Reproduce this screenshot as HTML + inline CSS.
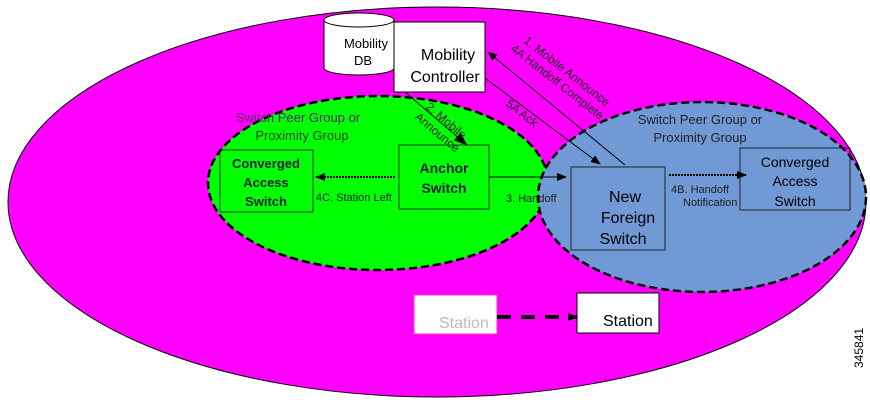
<!DOCTYPE html>
<html><head><style>body{margin:0;background:#fff}svg{display:block}text{font-family:"Liberation Sans",Arial,sans-serif}</style></head><body>
<svg width="870" height="403" viewBox="0 0 870 403">
<defs>
<marker id="a" markerWidth="10" markerHeight="8" refX="9" refY="4" orient="auto" markerUnits="userSpaceOnUse"><path d="M0,0 L10,4 L0,8z" fill="#000"/></marker>
<marker id="b" markerWidth="14" markerHeight="10" refX="13" refY="5" orient="auto" markerUnits="userSpaceOnUse"><path d="M0,0 L14,5 L0,10z" fill="#000"/></marker>
</defs>
<ellipse cx="437" cy="202" rx="429" ry="195" fill="#ff00ff" stroke="#000" stroke-width="1"/>
<ellipse cx="378" cy="183" rx="170" ry="87" fill="#00ff00" stroke="#000" stroke-width="2.5" stroke-dasharray="8,4"/>
<ellipse cx="702" cy="197" rx="164" ry="95" fill="#7099d6" stroke="#000" stroke-width="2.5" stroke-dasharray="8,4"/>
<rect x="394" y="22" width="91" height="70" fill="#fff" stroke="#000"/>
<text x="448" y="60" font-size="16" text-anchor="middle">Mobility</text>
<text x="445" y="82" font-size="16" text-anchor="middle">Controller</text>
<path d="M324,20 V68 A35,7 0 0 0 394,68 V20" fill="#fff" stroke="#000"/>
<ellipse cx="359" cy="20" rx="35" ry="7" fill="#fff" stroke="#000"/>
<text x="366" y="48" font-size="13" text-anchor="middle">Mobility</text>
<text x="363" y="65" font-size="13" text-anchor="middle">DB</text>
<text x="298" y="122" font-size="13" fill="#5a2a6a" text-anchor="middle">Switch Peer Group or</text>
<text x="302" y="140" font-size="13" fill="#1a4a1a" text-anchor="middle">Proximity Group</text>
<text x="700" y="124" font-size="13" fill="#222" text-anchor="middle">Switch Peer Group or</text>
<text x="700" y="142" font-size="13" fill="#222" text-anchor="middle">Proximity Group</text>
<rect x="220" y="150" width="93" height="62" fill="none" stroke="#333"/>
<text x="266" y="168" font-size="13" font-weight="bold" text-anchor="middle" fill="#123">Converged</text>
<text x="266" y="187" font-size="13" font-weight="bold" text-anchor="middle" fill="#123">Access</text>
<text x="266" y="206" font-size="13" font-weight="bold" text-anchor="middle" fill="#123">Switch</text>
<rect x="399" y="145" width="90" height="64" fill="none" stroke="#333"/>
<text x="444" y="173" font-size="14" font-weight="bold" text-anchor="middle" fill="#123">Anchor</text>
<text x="444" y="193" font-size="14" font-weight="bold" text-anchor="middle" fill="#123">Switch</text>
<rect x="571" y="167" width="94" height="83" fill="none" stroke="#222"/>
<text x="625" y="202" font-size="16" text-anchor="middle">New</text>
<text x="628" y="223" font-size="16" text-anchor="middle">Foreign</text>
<text x="623" y="244" font-size="16" text-anchor="middle">Switch</text>
<rect x="740" y="148" width="110" height="62" fill="none" stroke="#222"/>
<text x="795" y="167" font-size="14" text-anchor="middle">Converged</text>
<text x="795" y="186" font-size="14" text-anchor="middle">Access</text>
<text x="795" y="206" font-size="14" text-anchor="middle">Switch</text>
<line x1="405" y1="92" x2="467" y2="145" stroke="#000" marker-end="url(#b)"/>
<line x1="485" y1="78" x2="600" y2="164" stroke="#000" marker-end="url(#a)"/>
<line x1="625" y1="165" x2="488" y2="52" stroke="#000" marker-end="url(#a)"/>
<line x1="489" y1="177" x2="566" y2="177" stroke="#000" marker-end="url(#a)"/>
<line x1="395" y1="177" x2="316" y2="177" stroke="#000" stroke-width="2" stroke-dasharray="2,1" marker-end="url(#a)"/>
<line x1="669" y1="175" x2="746" y2="175" stroke="#000" stroke-width="2" stroke-dasharray="2,1" marker-end="url(#a)"/>
<text x="316" y="201" font-size="11" fill="#123">4C.  Station Left</text>
<text x="506" y="202" font-size="11" fill="#222">3. Handoff</text>
<text x="671" y="193" font-size="11" fill="#222">4B. Handoff</text>
<text x="683" y="206" font-size="11" fill="#222">Notification</text>
<g font-size="12" fill="#222">
<text transform="translate(425,108) rotate(40)">2. Mobile</text>
<text transform="translate(414,118) rotate(40)">Announce</text>
<text transform="translate(505,105) rotate(38)">5A Ack</text>
<text transform="translate(523,42) rotate(38)">1. Mobile Announce</text>
<text transform="translate(510,50) rotate(38)">4A  Handoff Complete</text>
</g>
<rect x="414" y="295" width="83" height="39" fill="#fff" stroke="#f3c"/>
<text x="439" y="328" font-size="16" fill="#bbb">Station</text>
<rect x="577" y="293" width="82" height="40" fill="#fff" stroke="#000"/>
<text x="603" y="326" font-size="16">Station</text>
<line x1="497" y1="317" x2="577" y2="317" stroke="#000" stroke-width="4" stroke-dasharray="14,10" marker-end="url(#a)"/>
<text transform="translate(863,368) rotate(-90)" font-size="12">345841</text>
</svg>
</body></html>
